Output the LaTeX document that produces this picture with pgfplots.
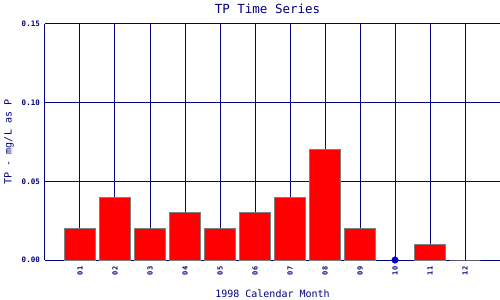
\documentclass[border=0pt]{standalone}
\usepackage{pgfplots}
\pgfplotsset{compat=1.18}
\usepackage{fontspec}
\setmainfont{DejaVu Sans Mono}
\definecolor{navy}{RGB}{0,0,128}
\definecolor{dotblue}{RGB}{0,0,204}
\definecolor{bargray}{RGB}{128,128,128}
\begin{document}
\begin{tikzpicture}
\begin{axis}[
  scale only axis,
  width=455bp, height=236bp,
  xmin=0, xmax=13, ymin=0, ymax=0.15,
  axis x line*=bottom, axis y line*=left,
  axis line style={navy, line width=1bp},
  xtick={1,...,12},
  xticklabels={01,02,03,04,05,06,07,08,09,10,11,12},
  ytick={0,0.05,0.10,0.15},
  major tick length=0pt,
  xmajorgrids, ymajorgrids,
  grid style={navy, line width=1bp},
  /pgf/number format/assume math mode=true,
  yticklabel style={/pgf/number format/.cd, fixed, fixed zerofill, precision=2, /tikz/.cd,
    font=\bfseries\fontsize{7.5bp}{8bp}\selectfont, text=navy, inner sep=0pt, anchor=east, xshift=-5bp},
  xticklabel style={rotate=90, anchor=east, font=\bfseries\fontsize{7bp}{8bp}\selectfont, text=navy, inner sep=0pt, xshift=-6.5bp},
  every axis title shift=0pt,
  title={TP Time Series},
  title style={font=\fontsize{12.5bp}{14bp}\selectfont, text=navy, inner sep=0pt, at={(axis description cs:0.5,1)}, anchor=center, yshift=15bp, xshift=-5bp},
  xlabel={1998 Calendar Month},
  ylabel={TP - mg/L as P},
  every axis x label/.style={at={(axis description cs:0.5,0)}, anchor=center, inner sep=0pt, yshift=-33.5bp, font=\fontsize{10bp}{12bp}\selectfont, text=navy},
  every axis y label/.style={at={(axis description cs:0,0.5)}, anchor=center, inner sep=0pt, xshift=-36bp, rotate=90, font=\fontsize{10bp}{12bp}\selectfont, text=navy},
  clip=false,
]
\addplot[ybar, bar width=30.5bp, fill=red, draw=bargray, line width=1bp] coordinates {
  (1,0.02) (2,0.04) (3,0.02) (4,0.03) (5,0.02) (6,0.03)
  (7,0.04) (8,0.07) (9,0.02) (11,0.01) (12,0)
};
\addplot[only marks, mark=*, mark size=3.3bp, color=dotblue] coordinates {(10,0)};
\end{axis}
\pgfresetboundingbox
\useasboundingbox (-45bp,-40bp) rectangle (455bp,260bp);
\end{tikzpicture}
\end{document}
